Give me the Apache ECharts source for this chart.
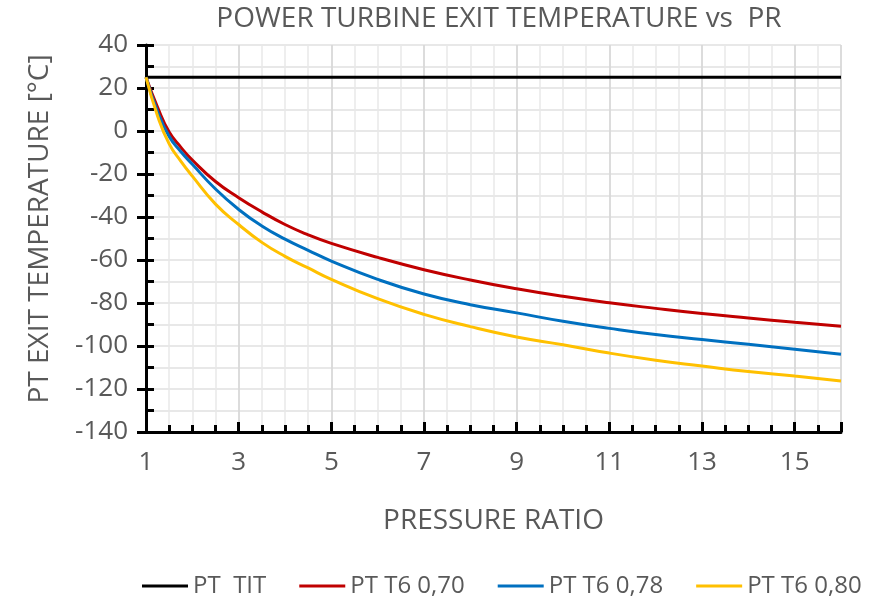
<!DOCTYPE html>
<html>
<head>
<meta charset="utf-8">
<title>PT exit temperature vs PR</title>
<script src="https://cdn.jsdelivr.net/npm/echarts@6/dist/echarts.min.js"></script>
<style>
  html, body { margin: 0; padding: 0; background: #fff; }
  #chart { width: 876px; height: 600px; }
</style>
</head>
<body>
<div id="chart"></div>
<script>
// pressure ratio points
const pr = [1, 1.25, 1.5, 1.75, 2, 2.5, 3, 3.5, 4, 4.5, 5, 6, 7, 8, 9, 10, 11, 12, 13, 14, 15, 16];
// exit temperature [°C] for each efficiency
const t070 = [25, 11, -0.5, -7.5, -13.5, -23.5, -31, -37.6, -43.5, -48.3, -52.3, -58.8, -64.5, -69.3, -73.4, -76.9, -79.9, -82.5, -84.9, -87.0, -89.0, -90.8];
const t078 = [25, 9, -2.5, -9.5, -15.5, -27, -36.5, -44.2, -50.3, -55.5, -60.5, -69, -75.8, -80.8, -84.6, -88.5, -91.8, -94.7, -97, -99.2, -101.5, -103.8];
const t080 = [25, 7, -6, -14, -21, -34, -43.5, -51.8, -58.3, -63.7, -69, -78, -85.3, -91, -95.8, -99.4, -103.3, -106.6, -109.3, -111.9, -114, -116.3];
// turbine inlet temperature (flat)
const titX = [1, 16];
const titY = [25, 25];

const names = ['PT  TIT', 'PT T6 0,70', 'PT T6 0,78', 'PT T6 0,80'];
const colors = ['#000000', '#c00000', '#0070c0', '#ffc000'];

const pairs = (xs, ys) => xs.map((x, i) => [x, ys[i]]);

const textColor = '#595959';
const font = 'Open Sans';

const myChart = echarts.init(document.getElementById('chart'));

const curve = (name, color, data) => ({
  name: name,
  type: 'line',
  smooth: true,
  symbol: 'none',
  data: data,
  lineStyle: { color: color, width: 3 },
  itemStyle: { color: color }
});

let option = {
  animation: false,
  title: {
    text: 'POWER TURBINE EXIT TEMPERATURE vs  PR',
    left: 494,
    textAlign: 'center',
    top: 0,
    textStyle: { fontFamily: font, fontSize: 28, fontWeight: 'normal', color: textColor }
  },
  legend: {
    data: names,
    left: 137,
    top: 569,
    icon: 'rect',
    itemWidth: 46,
    itemHeight: 3,
    itemGap: 33,
    itemTextGap: 5,
    textStyle: { fontFamily: font, fontSize: 24, color: textColor }
  },
  grid: { left: 146, right: 35, top: 45, bottom: 168 },
  xAxis: [
    {
      // fine axis: light grid every 0.5, short ticks, labels on odd values
      type: 'value',
      min: 1,
      max: 16,
      interval: 0.5,
      name: 'PRESSURE RATIO',
      nameLocation: 'middle',
      nameGap: 75,
      nameTextStyle: { fontFamily: font, fontSize: 28, color: textColor },
      axisLine: { onZero: false, lineStyle: { color: '#000', width: 3 } },
      axisTick: { inside: true, length: 7, lineStyle: { color: '#000', width: 3 } },
      axisLabel: {
        fontFamily: font, fontSize: 26, color: textColor, margin: 18,
        formatter: (v) => ((v - 1) % 2 === 0 && v < 16 ? String(v) : '')
      },
      splitLine: { show: true, lineStyle: { color: '#e8e8e8', width: 1.5 } }
    },
    {
      // major ticks and darker grid every 2
      type: 'value',
      position: 'bottom',
      min: 1,
      max: 16,
      interval: 2,
      axisLine: { show: false, onZero: false },
      axisTick: { show: true, inside: true, length: 10, lineStyle: { color: '#000', width: 3 } },
      axisLabel: { show: false },
      splitLine: { show: true, lineStyle: { color: '#d6d6d6', width: 1.5 } }
    }
  ],
  yAxis: [
    {
      type: 'value',
      min: -140,
      max: 40,
      interval: 10,
      name: 'PT EXIT TEMPERATURE [°C]',
      nameLocation: 'middle',
      nameGap: 92,
      nameTextStyle: { fontFamily: font, fontSize: 28, color: textColor, padding: [0, 0, 0, 19] },
      axisLine: { show: true, onZero: false, lineStyle: { color: '#000', width: 3 } },
      axisTick: { inside: true, length: 8, lineStyle: { color: '#000', width: 3 } },
      axisLabel: {
        fontFamily: font, fontSize: 26, color: textColor, margin: 18,
        formatter: (v) => (v % 20 === 0 ? String(v) : '')
      },
      splitLine: { show: true, lineStyle: { color: '#e0e0e0', width: 1.5 } }
    },
    {
      // outer half of the major ticks
      type: 'value',
      position: 'left',
      min: -140,
      max: 40,
      interval: 20,
      axisLine: { show: false, onZero: false },
      axisTick: { show: true, inside: false, length: 9, lineStyle: { color: '#000', width: 3 } },
      axisLabel: { show: false },
      splitLine: { show: false }
    }
  ],
  series: [
    curve(names[0], colors[0], pairs(titX, titY)),
    curve(names[1], colors[1], pairs(pr, t070)),
    curve(names[2], colors[2], pairs(pr, t078)),
    curve(names[3], colors[3], pairs(pr, t080))
  ]
};

option && myChart.setOption(option);
</script>
</body>
</html>
